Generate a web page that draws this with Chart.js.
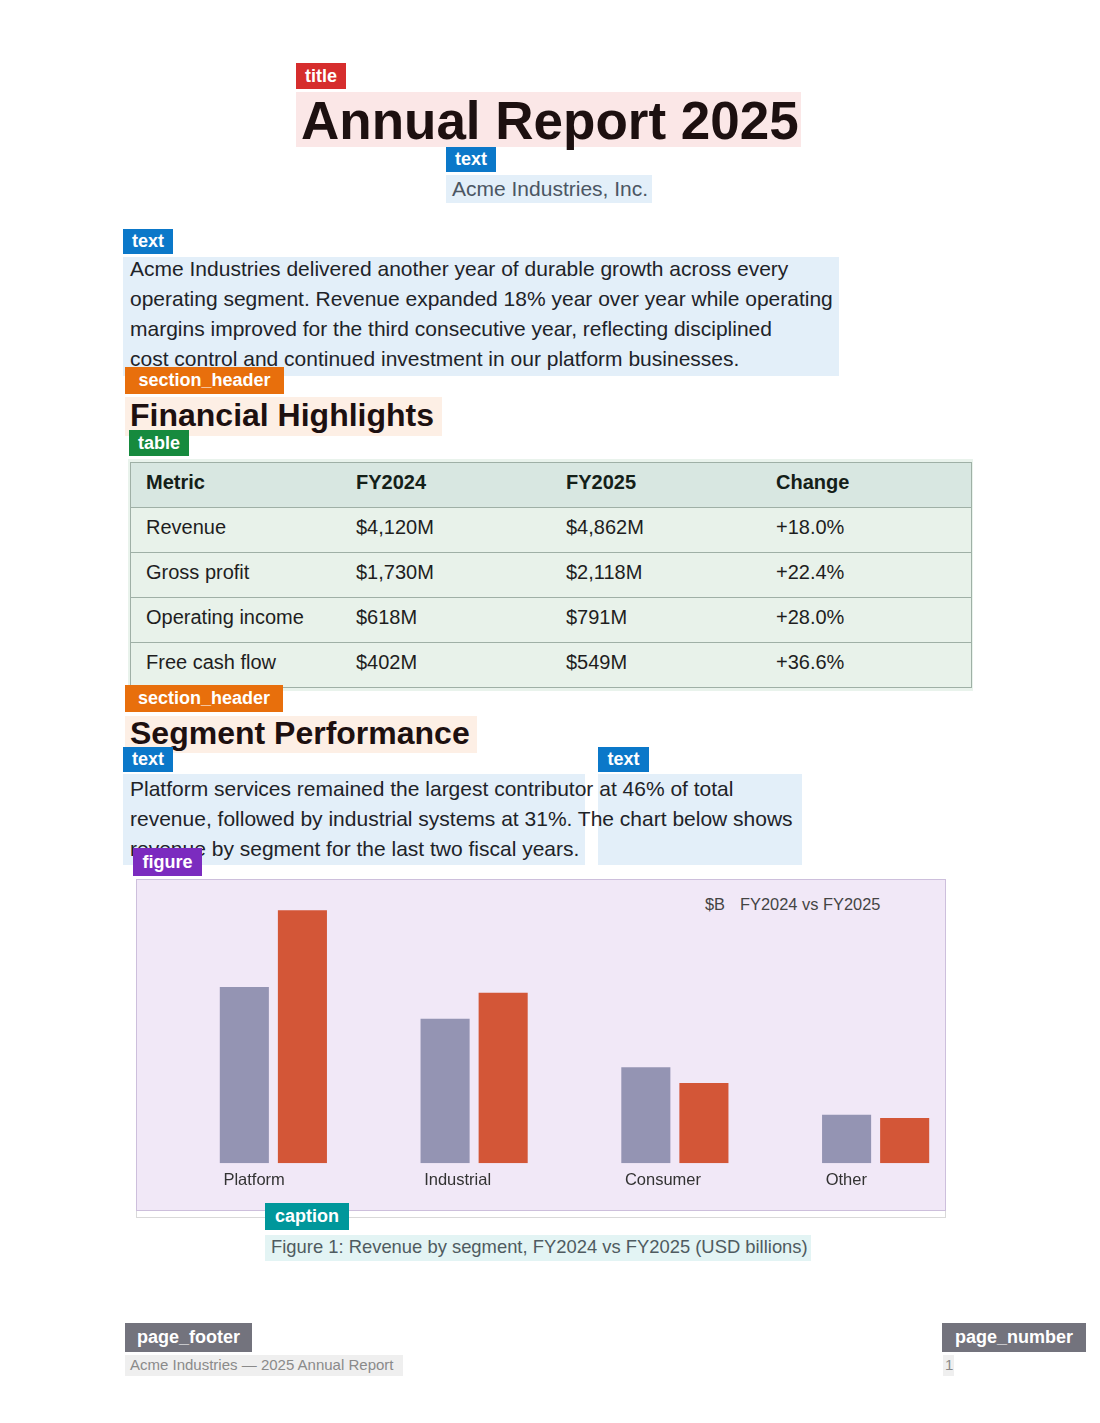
<!DOCTYPE html>
<html>
<head>
<meta charset="utf-8">
<script src="https://cdn.jsdelivr.net/npm/chart.js@4.4.0/dist/chart.umd.min.js"></script>
<style>
  body { margin: 0; background: #fff; }
  #page { position: relative; width: 1100px; height: 1423px; background: #fff; overflow: hidden;
          font-family: "Liberation Sans", Arial, Helvetica, sans-serif; color: #1e1e1e; }
  .abs { position: absolute; }
  .bg { position: absolute; }
  .lbl { position: absolute; color: #fff; font-weight: bold; font-size: 18px; text-align: center;
         z-index: 5; white-space: nowrap; }
  .txt { position: absolute; white-space: nowrap; z-index: 2; }
  table.fin { position: absolute; left: 130px; top: 462px; width: 842px; border-collapse: collapse;
              font-size: 20px; z-index: 2; border: 1px solid #9fb0a6; }
  table.fin td, table.fin th { height: 38px; padding: 0 0 6px 15px; text-align: left; width: 195px;
              border-top: 1px solid #9fb0a6; vertical-align: middle; }
  table.fin th { background: #d8e7e1; font-weight: bold; color: #142018; }
  table.fin td { background: #e8f2ea; color: #1e1e1e; }
</style>
</head>
<body>
<div id="page">
  <!-- region backgrounds -->
  <div class="bg" style="left:296px;top:92px;width:505px;height:55px;background:#fbe7e7"></div>
  <div class="bg" style="left:446px;top:175px;width:206px;height:28px;background:#e3eff9"></div>
  <div class="bg" style="left:123px;top:257px;width:716px;height:119px;background:#e3eff9"></div>
  <div class="bg" style="left:125px;top:397px;width:317px;height:39px;background:#fdefe5"></div>
  <div class="bg" style="left:128px;top:459px;width:845px;height:232px;background:#e9f3ec"></div>
  <div class="bg" style="left:125px;top:716px;width:352px;height:37px;background:#fdefe5"></div>
  <div class="bg" style="left:123px;top:774px;width:462px;height:91px;background:#e3eff9"></div>
  <div class="bg" style="left:598px;top:774px;width:204px;height:91px;background:#e3eff9"></div>
  <div class="bg" style="left:136px;top:879px;width:808px;height:337px;border:1px solid #d9d9d9;background:#fff"></div>
  <div class="bg" style="left:136px;top:879px;width:808px;height:330px;border:1px solid #cdbfdc;background:#f1e8f7"></div>
  <div class="bg" style="left:265px;top:1235px;width:546px;height:26px;background:#e3f4f4"></div>
  <div class="bg" style="left:125px;top:1355px;width:278px;height:21px;background:#efefef"></div>
  <div class="bg" style="left:943px;top:1355px;width:11px;height:21px;background:#efefef"></div>

  <!-- texts -->
  <div class="txt" style="left:301px;top:93px;font-size:53px;line-height:55px;font-weight:bold;color:#1d1010">Annual Report 2025</div>
  <div class="txt" style="left:452px;top:175px;font-size:21px;line-height:28px;color:#4b5663">Acme Industries, Inc.</div>
  <div class="txt" style="left:130px;top:254px;font-size:21px;line-height:30px;color:#1e2328">Acme Industries delivered another year of durable growth across every<br>operating segment. Revenue expanded 18% year over year while operating<br>margins improved for the third consecutive year, reflecting disciplined<br>cost control and continued investment in our platform businesses.</div>
  <div class="txt" style="left:130px;top:396px;font-size:32px;line-height:39px;font-weight:bold;color:#1d1010">Financial Highlights</div>
  <div class="txt" style="left:130px;top:714px;font-size:32px;line-height:39px;font-weight:bold;color:#1d1010">Segment Performance</div>
  <div class="txt" style="left:130px;top:774px;font-size:21px;line-height:30px;color:#1e2328">Platform services remained the largest contributor at 46% of total<br>revenue, followed by industrial systems at 31%. The chart below shows<br>revenue by segment for the last two fiscal years.</div>
  <div class="txt" style="left:271px;top:1234px;font-size:18.4px;line-height:26px;color:#4f5b60">Figure 1: Revenue by segment, FY2024 vs FY2025 (USD billions)</div>
  <div class="txt" style="left:130px;top:1354px;font-size:15px;line-height:21px;color:#8a8a8a">Acme Industries — 2025 Annual Report</div>
  <div class="txt" style="left:945px;top:1354px;font-size:15px;line-height:21px;color:#8a8a8a">1</div>

  <table class="fin" id="fin"></table>

  <!-- chart -->
  <div class="txt" style="left:705px;top:894px;font-size:16.4px;line-height:20px;color:#444">$B<span style="display:inline-block;width:15px"></span>FY2024 vs FY2025</div>
  <canvas id="segChart" width="803" height="316" class="abs" style="left:173px;top:881px;width:803px;height:316px;z-index:3"></canvas>

  <!-- layout labels -->
  <div class="lbl" style="left:296px;top:63px;width:50px;height:26px;line-height:26px;background:#d62d2d">title</div>
  <div class="lbl" style="left:446px;top:147px;width:50px;height:25px;line-height:25px;background:#0b78c9">text</div>
  <div class="lbl" style="left:123px;top:229px;width:50px;height:25px;line-height:25px;background:#0b78c9">text</div>
  <div class="lbl" style="left:125px;top:367px;width:159px;height:27px;line-height:27px;background:#e86f0c">section_header</div>
  <div class="lbl" style="left:129px;top:430px;width:60px;height:26px;line-height:26px;background:#168a3e">table</div>
  <div class="lbl" style="left:125px;top:685px;width:158px;height:27px;line-height:27px;background:#e86f0c">section_header</div>
  <div class="lbl" style="left:123px;top:747px;width:50px;height:25px;line-height:25px;background:#0b78c9">text</div>
  <div class="lbl" style="left:598px;top:747px;width:51px;height:25px;line-height:25px;background:#0b78c9">text</div>
  <div class="lbl" style="left:133px;top:848px;width:69px;height:28px;line-height:28px;background:#7b2bbf">figure</div>
  <div class="lbl" style="left:265px;top:1203px;width:84px;height:27px;line-height:27px;background:#00979b">caption</div>
  <div class="lbl" style="left:125px;top:1323px;width:127px;height:29px;line-height:29px;background:#73737d">page_footer</div>
  <div class="lbl" style="left:942px;top:1323px;width:144px;height:29px;line-height:29px;background:#73737d">page_number</div>
</div>

<script>
// table data
const tableHead = ["Metric", "FY2024", "FY2025", "Change"];
const metricNames = ["Revenue", "Gross profit", "Operating income", "Free cash flow"];
const metricFy24 = ["$4,120M", "$1,730M", "$618M", "$402M"];
const metricFy25 = ["$4,862M", "$2,118M", "$791M", "$549M"];
const metricChange = ["+18.0%", "+22.4%", "+28.0%", "+36.6%"];

// chart data, USD billions
const segments = ["Platform", "Industrial", "Consumer", "Other"];
const revFy24 = [1.56, 1.28, 0.85, 0.43];
const revFy25 = [2.24, 1.51, 0.71, 0.40];

let tbl = document.getElementById("fin");
let html = "<tr>" + tableHead.map(h => `<th>${h}</th>`).join("") + "</tr>";
metricNames.forEach((m, i) => {
    html += `<tr><td>${m}</td><td>${metricFy24[i]}</td><td>${metricFy25[i]}</td><td>${metricChange[i]}</td></tr>`;
});
tbl.innerHTML = html;

const barColor24 = "#9494b3";
const barColor25 = "#d35637";

new Chart(document.getElementById("segChart"), {
    type: "bar",
    data: {
        labels: segments,
        datasets: [{
            label: "FY2024",
            data: revFy24,
            backgroundColor: barColor24,
            borderWidth: 0
        }, {
            label: "FY2025",
            data: revFy25,
            backgroundColor: barColor25,
            borderWidth: 0
        }]
    },
    options: {
        responsive: false,
        animation: false,
        datasets: {
            bar: {
                categoryPercentage: 0.5786,
                barPercentage: 0.845
            }
        },
        layout: { padding: 0 },
        scales: {
            x: {
                grid: { display: false, drawTicks: false },
                border: { display: false },
                ticks: {
                    align: "start",
                    labelOffset: -50,
                    padding: 7,
                    color: "#333",
                    font: { family: "Liberation Sans", size: 16.5 }
                }
            },
            y: {
                display: false,
                min: 0,
                max: 2.5
            }
        },
        plugins: {
            legend: { display: false },
            tooltip: { enabled: false }
        }
    }
});
</script>
</body>
</html>
